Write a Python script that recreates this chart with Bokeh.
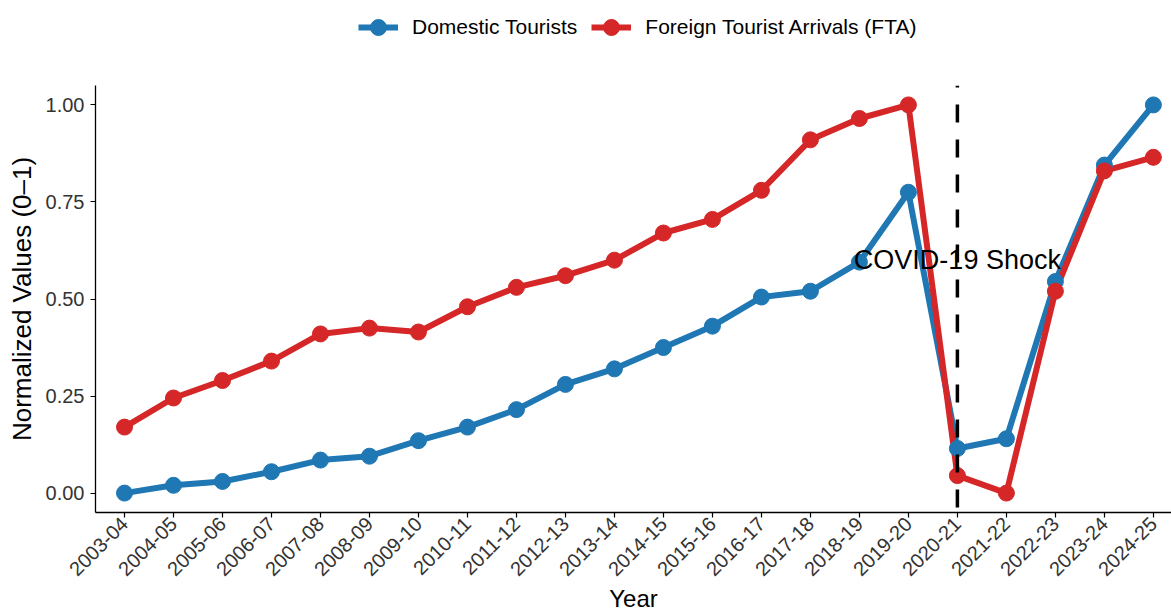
import math
from bokeh.plotting import figure
from bokeh.layouts import column
from bokeh.models import Range1d, FixedTicker, Span, Legend, LegendItem, Label
from bokeh.embed import file_html
from bokeh.resources import INLINE

# ---- data ----
years = ["2003-04", "2004-05", "2005-06", "2006-07", "2007-08", "2008-09",
         "2009-10", "2010-11", "2011-12", "2012-13", "2013-14", "2014-15",
         "2015-16", "2016-17", "2017-18", "2018-19", "2019-20", "2020-21",
         "2021-22", "2022-23", "2023-24", "2024-25"]
domestic = [0.00, 0.02, 0.03, 0.055, 0.085, 0.095, 0.135, 0.17, 0.215, 0.28,
            0.32, 0.375, 0.43, 0.505, 0.52, 0.595, 0.775, 0.115, 0.14, 0.545,
            0.845, 1.00]
fta = [0.17, 0.245, 0.29, 0.34, 0.41, 0.425, 0.415, 0.48, 0.53, 0.56,
       0.60, 0.67, 0.705, 0.78, 0.91, 0.965, 1.00, 0.045, 0.00, 0.52,
       0.83, 0.865]
series_names = ["Domestic Tourists", "Foreign Tourist Arrivals (FTA)"]
shock_year = "2020-21"
shock_text = "COVID-19 Shock"
shock_text_y = 0.60
y_ticks = [0.0, 0.25, 0.5, 0.75, 1.0]
y_tick_labels = ["0.00", "0.25", "0.50", "0.75", "1.00"]

BLUE = "#1f77b4"
RED = "#d62728"
FONT = "Liberation Sans"
LINE_W = 6
PT_SIZE = 16

xs = list(range(len(years)))

# ---------- main plot ----------
p = figure(width=1171, height=530, output_backend="svg", toolbar_location=None,
           x_range=Range1d(-0.592, len(years) - 1 + 0.37),
           y_range=Range1d(-0.05, 1.05),
           min_border_left=95, min_border_top=0, min_border_right=0,
           min_border_bottom=0)
p.outline_line_color = None
p.xgrid.visible = False
p.ygrid.visible = False
p.background_fill_color = "white"
p.border_fill_color = "white"

# lines first, then points
p.line(xs, domestic, line_color=BLUE, line_width=LINE_W, line_join="round")
p.line(xs, fta, line_color=RED, line_width=LINE_W, line_join="round")
p.scatter(xs, domestic, size=PT_SIZE, fill_color=BLUE, line_color=BLUE)
p.scatter(xs, fta, size=PT_SIZE, fill_color=RED, line_color=RED)

shock_x = years.index(shock_year)
span = Span(location=shock_x, dimension="height", line_color="black",
            line_width=3.5, line_dash="18 17", line_dash_offset=16)
p.add_layout(span)

lab = Label(x=shock_x, y=shock_text_y, text=shock_text, text_align="center",
            text_baseline="middle", text_font=FONT, text_font_size="27px",
            text_color="black")
p.add_layout(lab)

# axes
for ax in (p.xaxis[0], p.yaxis[0]):
    ax.axis_line_color = "black"
    ax.axis_line_width = 1.3
    ax.major_tick_line_color = "black"
    ax.major_tick_line_width = 1.2
    ax.major_tick_out = 5
    ax.major_tick_in = 0
    ax.minor_tick_line_color = None
    ax.major_label_text_font = FONT
    ax.major_label_text_font_size = "20px"
    ax.major_label_text_color = "#333333"
    ax.axis_label_text_font = FONT
    ax.axis_label_text_font_style = "normal"
    ax.axis_label_text_color = "black"

p.xaxis.ticker = FixedTicker(ticks=xs)
p.xaxis.major_label_overrides = {i: y for i, y in enumerate(years)}
p.xaxis.major_label_orientation = math.pi / 4
p.xaxis.major_label_standoff = 3
p.xaxis.axis_label = "Year"
p.xaxis.axis_label_standoff = 0
p.xaxis.axis_label_text_font_size = "24px"

p.yaxis.ticker = FixedTicker(ticks=y_ticks)
p.yaxis.major_label_overrides = {t: s for t, s in zip(y_ticks, y_tick_labels)}
p.yaxis.major_label_standoff = 6
p.yaxis.axis_label = "Normalized Values (0\u20131)"
p.yaxis.axis_label_standoff = 6
p.yaxis.axis_label_text_font_size = "26px"

# ---------- legend strip (series drawn out of view, only the legend shows) ----------
pl = figure(width=1171, height=85, output_backend="svg", toolbar_location=None,
            x_axis_type=None, y_axis_type=None,
            x_range=Range1d(-0.592, len(years) - 1 + 0.37),
            y_range=Range1d(5, 6),
            min_border_left=0, min_border_top=0, min_border_right=0,
            min_border_bottom=0)
pl.outline_line_color = None
pl.xgrid.visible = False
pl.ygrid.visible = False
lr1 = pl.line(xs, domestic, line_color=BLUE, line_width=LINE_W)
ls1 = pl.scatter(xs, domestic, size=PT_SIZE, fill_color=BLUE, line_color=BLUE)
lr2 = pl.line(xs, fta, line_color=RED, line_width=LINE_W)
ls2 = pl.scatter(xs, fta, size=PT_SIZE, fill_color=RED, line_color=RED)

legend = Legend(items=[LegendItem(label=series_names[0], renderers=[lr1, ls1]),
                       LegendItem(label=series_names[1], renderers=[lr2, ls2])],
                orientation="horizontal", location=(263, 38),
                glyph_width=40, glyph_height=40, label_standoff=14,
                spacing=14, padding=0, margin=0,
                border_line_color=None, background_fill_alpha=0,
                label_text_font=FONT, label_text_font_size="21px",
                label_text_color="black")
pl.add_layout(legend, "center")

layout = column(pl, p, spacing=0)
open("out.html", "w").write(file_html(layout, INLINE))
